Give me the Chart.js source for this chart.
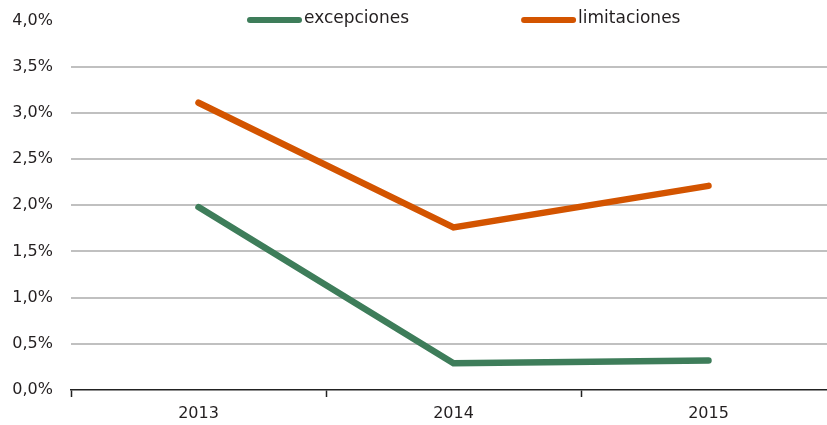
<!DOCTYPE html>
<html>
<head>
<meta charset="utf-8">
<script src="https://cdn.jsdelivr.net/npm/chart.js@4/dist/chart.umd.min.js"></script>
<style>
  html, body { margin: 0; padding: 0; background: #fff; overflow: hidden; }
  /* a bit wider than the window: the plot runs past the right edge in the original */
  #wrap { width: 836px; height: 425px; position: relative; }
</style>
</head>
<body>
<div id="wrap"><canvas id="chart"></canvas></div>
<script>
// data (percent)
const years = ['2013', '2014', '2015'];
const excepciones = [1.98, 0.29, 0.32];
const limitaciones = [3.11, 1.76, 2.21];
const seriesNames = ['excepciones', 'limitaciones'];
const seriesColors = ['#3E7D5A', '#D35400'];

const textColor = '#231f20';
const fontFamily = '"DejaVu Sans", sans-serif';

// legend drawn by hand so it can sit above the plot top like the original
const topLegend = {
  id: 'topLegend',
  afterDraw(chart) {
    const ctx = chart.ctx;
    const area = chart.chartArea;
    let x = area.left + 176;
    const y = 20;
    ctx.save();
    ctx.font = '17px ' + fontFamily;
    ctx.textBaseline = 'middle';
    chart.data.datasets.forEach((ds, i) => {
      ctx.strokeStyle = ds.borderColor;
      ctx.lineWidth = 6;
      ctx.lineCap = 'round';
      ctx.beginPath();
      ctx.moveTo(x + 3, y);
      ctx.lineTo(x + 52, y);
      ctx.stroke();
      ctx.fillStyle = textColor;
      ctx.fillText(ds.label, x + 57, y - 1);
      x += 57 + ctx.measureText(ds.label).width + 112;
    });
    ctx.restore();
  }
};

const ctx = document.getElementById('chart').getContext('2d');
new Chart(ctx, {
  type: 'line',
  data: {
    labels: years,
    datasets: [
      {
        label: seriesNames[0],
        data: excepciones,
        borderColor: seriesColors[0],
        borderWidth: 6.5,
        borderCapStyle: 'round',
        pointRadius: 0,
        tension: 0
      },
      {
        label: seriesNames[1],
        data: limitaciones,
        borderColor: seriesColors[1],
        borderWidth: 6.5,
        borderCapStyle: 'round',
        pointRadius: 0,
        tension: 0
      }
    ]
  },
  options: {
    responsive: true,
    maintainAspectRatio: false,
    animation: false,
    layout: { autoPadding: false, padding: { top: 20.5, left: 0, right: 0, bottom: 0 } },
    plugins: {
      legend: { display: false },
      tooltip: { enabled: false }
    },
    scales: {
      x: {
        offset: true,
        afterFit: s => { s.height = 35; },
        grid: {
          offset: true,
          drawOnChartArea: false,
          drawTicks: true,
          tickLength: 7,
          tickWidth: 1.5,
          tickColor: '#222'
        },
        border: { display: true, color: '#222', width: 1.5 },
        ticks: {
          color: textColor,
          font: { family: fontFamily, size: 16 },
          padding: 7
        }
      },
      y: {
        min: 0,
        max: 4,
        afterFit: s => { s.width = 71; s.paddingTop = 0; s.paddingBottom = 0; },
        border: { display: false },
        grid: {
          drawTicks: false,
          lineWidth: 2,
          color: c => (c.tick && (c.tick.value === 4 || c.tick.value === 0)) ? 'rgba(0,0,0,0)' : '#c0c0c0'
        },
        ticks: {
          stepSize: 0.5,
          padding: 18,
          color: textColor,
          font: { family: fontFamily, size: 16 },
          callback: v => v.toFixed(1).replace('.', ',') + '%'
        }
      }
    }
  },
  plugins: [topLegend]
});
</script>
</body>
</html>
